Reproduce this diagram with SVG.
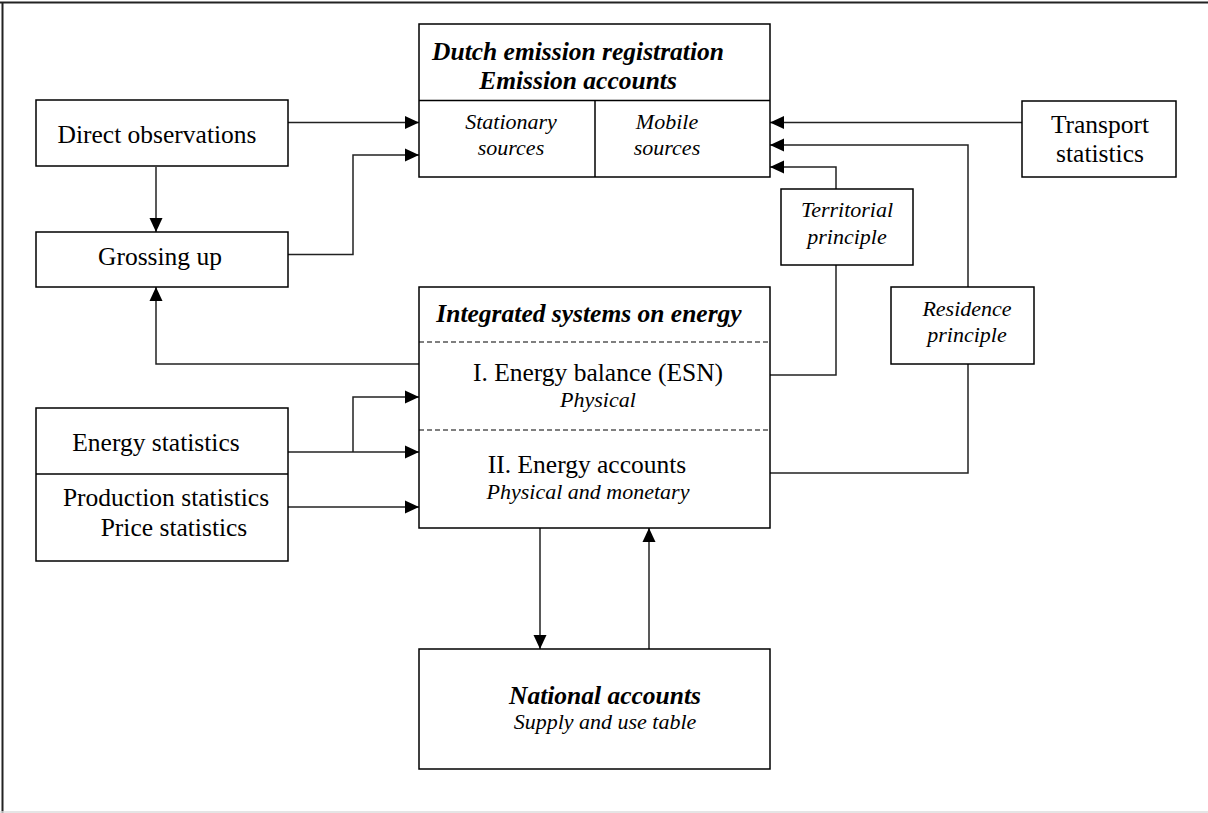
<svg xmlns="http://www.w3.org/2000/svg" width="1208" height="813" viewBox="0 0 1208 813">
  <style>
    .box { fill: #fff; stroke: #000; stroke-width: 1.5; }
    .div { stroke: #000; stroke-width: 1.5; fill: none; }
    .dash { stroke: #000; stroke-width: 1.2; stroke-dasharray: 5 3; fill: none; }
    .wire { stroke: #222; stroke-width: 1.5; fill: none; }
    .arr { marker-end: url(#head); }
    text { font-family: "Liberation Serif", "Times New Roman", serif; fill: #000; text-anchor: middle; }
    .lg { font-size: 25.5px; }
    .it { font-style: italic; font-size: 22px; }
    .bi { font-style: italic; font-weight: bold; font-size: 25.5px; }
  </style>
  <defs>
    <marker id="head" viewBox="0 0 14 14" refX="14" refY="7" markerWidth="14" markerHeight="14" markerUnits="userSpaceOnUse" orient="auto">
      <path d="M0,0.5 L14,7 L0,13.5 Z" fill="#000"/>
    </marker>
  </defs>

  <!-- page frame -->
  <line x1="0" y1="2.5" x2="1208" y2="2.5" stroke="#222" stroke-width="2"/>
  <line x1="2.5" y1="2" x2="2.5" y2="813" stroke="#222" stroke-width="2"/>
  <line x1="0" y1="812" x2="1208" y2="812" stroke="#ddd" stroke-width="1.5"/>

  <!-- connectors -->
  <g id="connectors">
    <path class="wire arr" d="M288,122.5 H419"/>
    <path class="wire arr" d="M156,167 V232"/>
    <path class="wire arr" d="M288,254.5 H353 V155 H419"/>
    <path class="wire arr" d="M1022,122.5 H770"/>
    <path class="wire arr" d="M968,287 V145 H770"/>
    <path class="wire arr" d="M836,189 V167 H770"/>
    <path class="wire" d="M836,265 V375 H770"/>
    <path class="wire" d="M968,364 V473 H770"/>
    <path class="wire arr" d="M419,364 H156 V287"/>
    <path class="wire arr" d="M288,452 H419"/>
    <path class="wire arr" d="M353,452 V397 H419"/>
    <path class="wire arr" d="M288,507 H419"/>
    <path class="wire arr" d="M540,528 V649"/>
    <path class="wire arr" d="M649,649 V528"/>
  </g>

  <g id="direct-observations">
    <rect class="box" x="36" y="100" width="252" height="66"/>
    <text class="lg" x="157" y="143">Direct observations</text>
  </g>

  <g id="grossing-up">
    <rect class="box" x="36" y="232" width="252" height="55"/>
    <text class="lg" x="160" y="265">Grossing up</text>
  </g>

  <g id="emission-registration">
    <rect class="box" x="419" y="24" width="351" height="153"/>
    <line class="div" x1="419" y1="100.5" x2="770" y2="100.5"/>
    <line class="div" x1="595" y1="100.5" x2="595" y2="177"/>
    <text class="bi" x="578" y="60">Dutch emission registration</text>
    <text class="bi" x="578" y="89">Emission accounts</text>
    <text class="it" x="511" y="129">Stationary</text>
    <text class="it" x="511" y="155">sources</text>
    <text class="it" x="667" y="129">Mobile</text>
    <text class="it" x="667" y="155">sources</text>
  </g>

  <g id="transport-statistics">
    <rect class="box" x="1022" y="101" width="154" height="76"/>
    <text class="lg" x="1100" y="133">Transport</text>
    <text class="lg" x="1100" y="162">statistics</text>
  </g>

  <g id="territorial-principle">
    <rect class="box" x="781" y="189" width="132" height="76"/>
    <text class="it" x="847" y="217">Territorial</text>
    <text class="it" x="847" y="244">principle</text>
  </g>

  <g id="residence-principle">
    <rect class="box" x="891" y="287" width="143" height="77"/>
    <text class="it" x="967" y="316">Residence</text>
    <text class="it" x="967" y="342">principle</text>
  </g>

  <g id="integrated-systems">
    <rect class="box" x="419" y="287" width="351" height="241"/>
    <line class="dash" x1="419" y1="342" x2="770" y2="342"/>
    <line class="dash" x1="419" y1="430" x2="770" y2="430"/>
    <text class="bi" x="589" y="322">Integrated systems on energy</text>
    <text class="lg" x="598" y="381">I. Energy balance (ESN)</text>
    <text class="it" x="598" y="407">Physical</text>
    <text class="lg" x="587" y="473">II. Energy accounts</text>
    <text class="it" x="588" y="499">Physical and monetary</text>
  </g>

  <g id="energy-statistics">
    <rect class="box" x="36" y="408" width="252" height="153"/>
    <line class="div" x1="36" y1="474" x2="288" y2="474"/>
    <text class="lg" x="156" y="451">Energy statistics</text>
    <text class="lg" x="166" y="506">Production statistics</text>
    <text class="lg" x="174" y="536">Price statistics</text>
  </g>

  <g id="national-accounts">
    <rect class="box" x="419" y="649" width="351" height="120"/>
    <text class="bi" x="605" y="704">National accounts</text>
    <text class="it" x="605" y="729">Supply and use table</text>
  </g>
</svg>
